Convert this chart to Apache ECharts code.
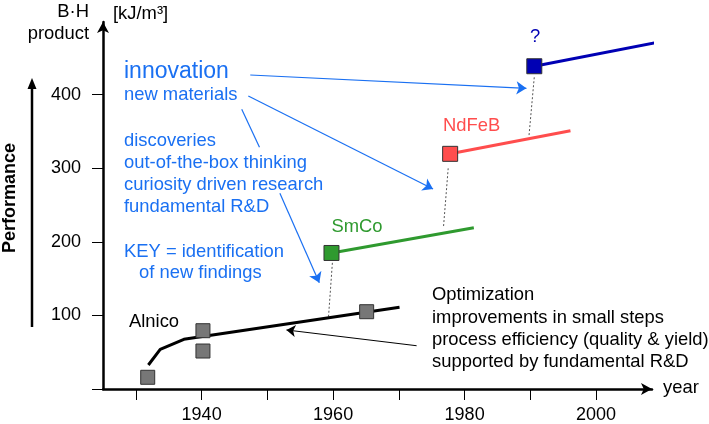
<!DOCTYPE html>
<html>
<head>
<meta charset="utf-8">
<script src="https://cdn.jsdelivr.net/npm/echarts@6/dist/echarts.min.js"></script>
<style>html,body{margin:0;padding:0;background:#fff}#c{width:709px;height:424px}</style>
</head>
<body>
<div id="c"></div>
<script>
// ---- data ----
const xTickYears = [1930, 1940, 1950, 1960, 1970, 1980, 1990, 2000];
const xLabelYears = [1940, 1960, 1980, 2000];
const yTickValues = [0, 100, 200, 300, 400];
const yLabelValues = [100, 200, 300, 400];

const alnicoCurveYears = [1931.9, 1933.7, 1937.3, 1970.1];
const alnicoCurveValues = [32.6, 53.9, 67.5, 111];
const alnicoSampleYears = [1931.8, 1940.2, 1940.2, 1965.1];
const alnicoSampleValues = [15.9, 79.2, 51.6, 105];

const stepNames = ['SmCo', 'NdFeB', '?'];
const stepColors = ['#2f9a2f', '#ff4d4d', '#0000b4'];
const stepStartYears = [1959.75, 1977.8, 1990.6];
const stepStartValues = [184.8, 319.5, 438.5];
const stepEndYears = [1981.4, 1996.1, 2009.0];
const stepEndValues = [219.1, 350.9, 470.4];

const jumpFromYears = [1959.3, 1976.8, 1989.8];
const jumpFromValues = [98.2, 221.4, 345];
const jumpToYears = [1959.9, 1977.5, 1990.6];
const jumpToValues = [172.9, 299.8, 424.3];

// annotation arrows, [year, value] pairs
const innovationArrowFrom = [[1947.4, 426.6], [1947.1, 398]];
const innovationArrowTo = [[1989.4, 408.5], [1975.2, 271.7]];
const researchArrowUpper = [[1946.1, 380], [1948.8, 328.4]];
const researchArrowLower = [[1951.9, 265.9], [1957.9, 144.4]];
const optimizationArrow = [[1972.7, 58.8], [1952.9, 80.2]];

// ---- chart ----
const FONT = "'Liberation Sans', Arial, sans-serif";
const FS = '18.4px ';
const BLUE = '#1a70f2';
const chart = echarts.init(document.getElementById('c'), null, {renderer: 'canvas'});

const series = [];
series.push({
  type: 'line', name: 'Alnico', clip: false,
  data: alnicoCurveYears.map((y, i) => [y, alnicoCurveValues[i]]),
  symbol: 'none', lineStyle: {color: '#000', width: 3}, z: 3
});
series.push({
  type: 'scatter', name: 'Alnico samples',
  data: alnicoSampleYears.map((y, i) => [y, alnicoSampleValues[i]]),
  symbol: 'rect', symbolSize: 14,
  itemStyle: {color: '#777777', borderColor: '#333', borderWidth: 1, opacity: 1}, z: 5
});
stepNames.forEach((n, i) => {
  series.push({
    type: 'line', name: n, clip: false,
    data: [[stepStartYears[i], stepStartValues[i]], [stepEndYears[i], stepEndValues[i]]],
    symbol: 'none', lineStyle: {color: stepColors[i], width: 3}, z: 3
  });
  series.push({
    type: 'scatter', name: n + ' start', clip: false,
    data: [[stepStartYears[i], stepStartValues[i]]],
    symbol: 'rect', symbolSize: 15,
    itemStyle: {color: stepColors[i], borderColor: '#333', borderWidth: 1, opacity: 1}, z: 6
  });
});
series.push({
  type: 'lines', coordinateSystem: 'cartesian2d', name: 'jumps',
  data: jumpFromYears.map((y, i) => ({coords: [[y, jumpFromValues[i]], [jumpToYears[i], jumpToValues[i]]]})),
  lineStyle: {color: '#555', width: 1, type: [2, 2], opacity: 1}, symbol: 'none', z: 2
});
series.push({
  type: 'lines', coordinateSystem: 'cartesian2d', name: 'innovation arrows',
  data: innovationArrowFrom.map((f, i) => ({coords: [f, innovationArrowTo[i]]})).concat([{coords: researchArrowLower}]),
  lineStyle: {color: BLUE, width: 1.2, opacity: 1}, symbol: ['none', 'arrow'], symbolSize: [8, 10], z: 2
});
series.push({
  type: 'lines', coordinateSystem: 'cartesian2d', name: 'research arrow upper',
  data: [{coords: researchArrowUpper}],
  lineStyle: {color: BLUE, width: 1.2, opacity: 1}, symbol: 'none', z: 2
});
series.push({
  type: 'lines', coordinateSystem: 'cartesian2d', name: 'optimization arrow',
  data: [{coords: optimizationArrow}],
  lineStyle: {color: '#000', width: 1, opacity: 1}, symbol: ['none', 'arrow'], symbolSize: [7, 9], z: 2
});

function txt(x, y, s, opts) {
  return {type: 'text', x: x, y: y, z: 100, style: Object.assign({
    text: s, fill: '#000', font: FS + FONT, textAlign: 'left', textVerticalAlign: 'middle'
  }, opts || {})};
}

const graphics = [
  txt(89, 12, 'B·H', {textAlign: 'right'}),
  txt(89, 34, 'product', {textAlign: 'right'}),
  txt(113, 14, '[kJ/m³]'),
  {type: 'text', x: 10, y: 198, rotation: Math.PI / 2, z: 100,
   style: {text: 'Performance', fill: '#000', font: 'bold 18px ' + FONT, textAlign: 'center', textVerticalAlign: 'middle'}},
  {type: 'line', z: 100, shape: {x1: 32, y1: 327, x2: 32, y2: 86}, style: {stroke: '#000', lineWidth: 2.5}},
  {type: 'polygon', z: 100, shape: {points: [[32, 78], [27.5, 89], [36.5, 89]]}, style: {fill: '#000'}},
  txt(124, 72, 'innovation', {fill: BLUE, font: '23px ' + FONT}),
  txt(124, 95, 'new materials', {fill: BLUE}),
  txt(124, 141, 'discoveries', {fill: BLUE}),
  txt(124, 163, 'out-of-the-box thinking', {fill: BLUE}),
  txt(124, 185, 'curiosity driven research', {fill: BLUE}),
  txt(124, 206.5, 'fundamental R&D', {fill: BLUE}),
  txt(124, 251.5, 'KEY = identification', {fill: BLUE}),
  txt(139, 273, 'of new findings', {fill: BLUE}),
  txt(129, 322, 'Alnico'),
  txt(357, 227, stepNames[0], {fill: stepColors[0], textAlign: 'center'}),
  txt(443, 126, stepNames[1], {fill: stepColors[1]}),
  txt(535, 37, stepNames[2], {fill: stepColors[2], textAlign: 'center'}),
  txt(432, 295, 'Optimization'),
  txt(432, 317.5, 'improvements in small steps'),
  txt(432, 340, 'process efficiency (quality & yield)'),
  txt(432, 362, 'supported by fundamental R&D'),
  txt(663, 388, 'year')
];

chart.setOption({
  animation: false,
  backgroundColor: '#fff',
  grid: {left: 103, right: 57, top: 22, bottom: 35},
  xAxis: {
    type: 'value', min: 1925, max: 2008.5,
    axisLine: {lineStyle: {color: '#000', width: 2.5}, symbol: ['none', 'arrow'], symbolSize: [9, 11]},
    axisTick: {show: true, length: 11, lineStyle: {color: '#000', width: 1}, customValues: xTickYears},
    axisLabel: {color: '#000', fontSize: 18, fontFamily: FONT, margin: 17, customValues: xLabelYears,
      formatter: v => String(v)},
    splitLine: {show: false}
  },
  yAxis: {
    type: 'value', min: 0, max: 498.6,
    axisLine: {show: true, lineStyle: {color: '#000', width: 2.5}, symbol: ['none', 'arrow'], symbolSize: [9, 11]},
    axisTick: {show: true, length: 11, lineStyle: {color: '#000', width: 1}, customValues: yTickValues},
    axisLabel: {color: '#000', fontSize: 18, fontFamily: FONT, margin: 22, customValues: yLabelValues,
      formatter: v => String(v)},
    splitLine: {show: false}
  },
  series: series,
  graphic: graphics
});
</script>
</body>
</html>
